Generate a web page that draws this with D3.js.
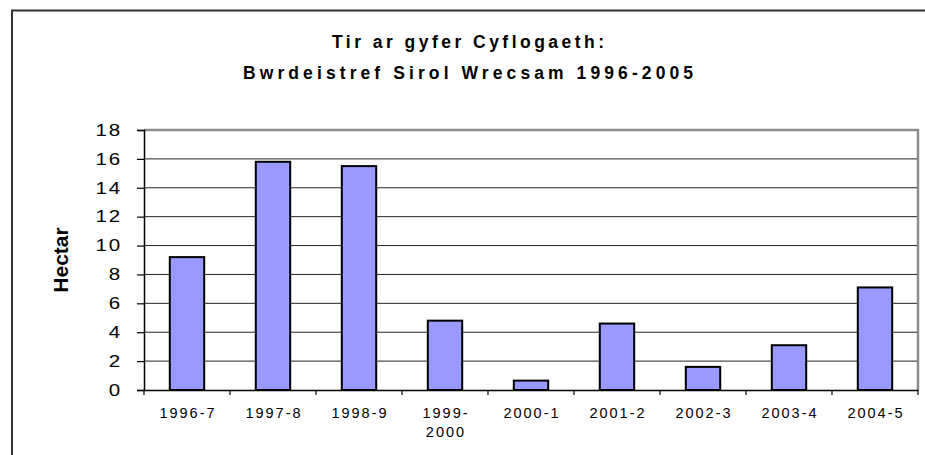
<!DOCTYPE html>
<html>
<head>
<meta charset="utf-8">
<script src="https://cdn.jsdelivr.net/npm/d3@7"></script>
<style>
  html, body { margin: 0; padding: 0; background: #fff; }
  svg { display: block; font-family: "Liberation Sans", Arial, sans-serif; }
</style>
</head>
<body>
<svg id="chart" width="925" height="455"></svg>
<script>
const titleLines = ["Tir ar gyfer Cyflogaeth:", "Bwrdeistref Sirol Wrecsam 1996-2005"];
const yAxisTitle = "Hectar";
const categories = ["1996-7", "1997-8", "1998-9", "1999-2000", "2000-1", "2001-2", "2002-3", "2003-4", "2004-5"];
const categoryLabels = [["1996-7"], ["1997-8"], ["1998-9"], ["1999-", "2000"], ["2000-1"], ["2001-2"], ["2002-3"], ["2003-4"], ["2004-5"]];
const values = [9.2, 15.8, 15.5, 4.8, 0.65, 4.6, 1.6, 3.1, 7.1];
const yTicks = [0, 2, 4, 6, 8, 10, 12, 14, 16, 18];

const svg = d3.select("#chart");
const plot = { left: 144, right: 918, top: 130, bottom: 390 };

// outer frame
svg.append("rect")
  .attr("x", 12).attr("y", 10.5)
  .attr("width", 930).attr("height", 460)
  .attr("fill", "#fff").attr("stroke", "#333").attr("stroke-width", 2);

const x = d3.scaleBand().domain(categories).range([plot.left, plot.right]).padding(0);
const y = d3.scaleLinear().domain([0, 18]).range([plot.bottom, plot.top]);

// plot area border (grey top/right)
svg.append("path")
  .attr("d", `M${plot.left},${plot.top}H${plot.right}V${plot.bottom}`)
  .attr("fill", "none").attr("stroke", "#8c8c8c").attr("stroke-width", 2.5);

// gridlines
svg.append("g").selectAll("line")
  .data(yTicks.filter(t => t > 0 && t < 18))
  .join("line")
  .attr("x1", plot.left).attr("x2", plot.right - 1)
  .attr("y1", d => y(d)).attr("y2", d => y(d))
  .attr("stroke", "#222").attr("stroke-width", 1);

// bars
const bw = x.bandwidth() * 0.4;
svg.append("g").selectAll("rect")
  .data(values)
  .join("rect")
  .attr("x", (d, i) => x(categories[i]) + (x.bandwidth() - bw) / 2)
  .attr("y", d => y(d))
  .attr("width", bw)
  .attr("height", d => y(0) - y(d))
  .attr("fill", "#9999FF")
  .attr("stroke", "#000")
  .attr("stroke-width", 2);

// y axis
const yAxis = d3.axisLeft(y).tickValues(yTicks).tickSize(7).tickFormat("");
const gy = svg.append("g").attr("transform", `translate(${plot.left},0)`).call(yAxis);
gy.select(".domain").attr("stroke", "#000").attr("stroke-width", 1.5);
gy.selectAll(".tick line").attr("stroke", "#000").attr("stroke-width", 1.2);

svg.append("g").selectAll("text")
  .data(yTicks)
  .join("text")
  .attr("transform", d => `translate(122,${y(d)}) scale(1.28,1)`)
  .attr("text-anchor", "end")
  .attr("dy", "0.36em")
  .attr("font-size", 16)
  .attr("letter-spacing", 1.5)
  .attr("fill", "#000")
  .text(d => d);

// x axis
const xAxis = d3.axisBottom(x).tickSize(0).tickFormat("");
const gx = svg.append("g").attr("transform", `translate(0,${plot.bottom})`).call(xAxis);
gx.select(".domain").attr("stroke", "#000").attr("stroke-width", 1.5);
gx.selectAll(".tick").remove();

const boundaries = categories.map(c => x(c)).concat([plot.right]);
svg.append("g").selectAll("line")
  .data(boundaries)
  .join("line")
  .attr("x1", d => d).attr("x2", d => d)
  .attr("y1", plot.bottom).attr("y2", plot.bottom + 5)
  .attr("stroke", "#000").attr("stroke-width", 1.2);

const xl = svg.append("g").selectAll("text")
  .data(categories)
  .join("text")
  .attr("text-anchor", "middle")
  .attr("font-size", 14.5)
  .attr("letter-spacing", 2)
  .attr("fill", "#000");
xl.each(function(c, i) {
  const t = d3.select(this);
  categoryLabels[i].forEach((line, j) => {
    t.append("tspan")
      .attr("x", x(c) + x.bandwidth() / 2 + 1)
      .attr("y", 418 + j * 18.5)
      .text(line);
  });
});

// y axis title
svg.append("text")
  .attr("transform", `translate(68,${(plot.top + plot.bottom) / 2}) rotate(-90)`)
  .attr("text-anchor", "middle")
  .attr("font-size", 21)
  .attr("font-weight", "bold")
  .attr("fill", "#000")
  .text(yAxisTitle);

// title
const titleWidths = [272, 450];
titleLines.forEach((line, i) => {
  svg.append("text")
    .attr("x", 468)
    .attr("y", 48 + i * 31)
    .attr("text-anchor", "middle")
    .attr("font-size", 17.5)
    .attr("font-weight", "bold")
    .attr("textLength", titleWidths[i])
    .attr("lengthAdjust", "spacing")
    .attr("fill", "#000")
    .text(line);
});
</script>
</body>
</html>
